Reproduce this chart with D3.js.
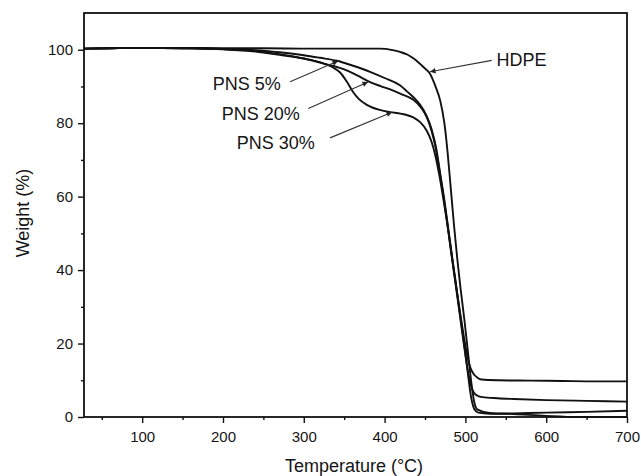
<!DOCTYPE html>
<html>
<head>
<meta charset="utf-8">
<script src="https://cdn.jsdelivr.net/npm/d3@7"></script>
<style>
  body { margin: 0; background: #fff; }
  text { font-family: "Liberation Sans", Arial, sans-serif; fill: #151515; }
</style>
</head>
<body>
<svg id="tga"></svg>
<script>
// TGA curves, [temperature (°C), weight (%)]
const hdpe = [[28,100.3],[60,100.4],[100,100.5],[150,100.5],[200,100.4],[250,100.4],[300,100.3],[350,100.3],[394,100.3],[410,99.9],[419,99.4],[428,98.7],[436,97.6],[448,95.3],[456,93.5],[463,90],[469,86],[474,80],[478,72],[482,62],[486,52],[490,43],[494,35],[499,26],[503,18],[507,10],[511,4],[515,2],[530,1.1],[560,0.8],[600,0.3],[640,0],[700,0]];
const pns5 = [[28,100.3],[60,100.4],[100,100.5],[150,100.4],[200,100.2],[240,99.9],[270,99.3],[300,98.5],[320,97.8],[341,97.0],[360,95.7],[382,94],[400,92.3],[419,90.3],[428,88.6],[436,87],[444,85],[452,82],[458,78.5],[464,73],[469,66],[474,59],[479,51],[484,43],[489,35],[494,27],[499,19],[503,12],[507,5.5],[511,2.2],[516,1.2],[530,0.9],[560,1.0],[600,1.2],[650,1.4],[700,1.7]];
const pns20 = [[28,100.3],[60,100.4],[100,100.5],[150,100.4],[200,100.2],[240,99.7],[270,98.8],[300,97.6],[325,96.2],[353,94.4],[368,92.8],[382,91.2],[395,90.1],[407,89.2],[420,88],[436,86.3],[445,84.3],[452,81.7],[458,78],[463,73.5],[468,67],[473,60],[478,52],[483,44],[488,36],[493,28],[498,20],[502,14],[506,9.2],[510,6.8],[515,5.8],[521,5.4],[540,5.1],[560,4.9],[600,4.6],[650,4.4],[700,4.2]];
const pns30 = [[28,100.3],[60,100.4],[100,100.5],[150,100.4],[200,100.1],[240,99.5],[270,98.6],[300,97.6],[320,96.6],[335,95.3],[345,93.8],[353,91.4],[361,88.5],[368,86.6],[378,85],[394,83.6],[407,83],[420,82.6],[436,81.5],[444,80.3],[452,78],[458,75],[463,71],[468,65.5],[473,59],[478,52],[483,44],[488,36.5],[493,29],[498,22],[502,17],[506,13.5],[510,11.8],[515,10.7],[520,10.2],[540,10.0],[580,9.9],[620,9.8],[660,9.7],[700,9.7]];

// annotation labels: text, text anchor point, arrow start, arrow tip (data units)
const labelNames = ["HDPE", "PNS 5%", "PNS 20%", "PNS 30%"];
const labelPos = [[538.6,95.5],[187.3,89.0],[198.4,80.8],[217,73.1]];
const arrowFrom = [[532.6,97.1],[283,91.3],[305.6,84.0],[332.5,76.0]];
const arrowTo = [[456.2,94.0],[342.4,96.9],[379.5,91.2],[409.2,83.0]];

const xMajor = [100, 200, 300, 400, 500, 600, 700];
const xMinor = [50, 150, 250, 350, 450, 550, 650];
const yMajor = [0, 20, 40, 60, 80, 100];
const yMinor = [10, 30, 50, 70, 90];

let width = 641, height = 476;
let margin = {top: 13, right: 14, bottom: 59, left: 84};

let svg = d3.select('#tga')
    .attr('width', width)
    .attr('height', height);

let xScale = d3.scaleLinear()
    .domain([28, 700])
    .range([margin.left, width - margin.right]);

let yScale = d3.scaleLinear()
    .domain([0, 110])
    .range([height - margin.bottom, margin.top]);

// minor ticks first, then major ticks with labels
svg.append('g')
    .attr('transform', `translate(0, ${height - margin.bottom})`)
    .call(d3.axisBottom(xScale).tickValues(xMinor).tickSize(3).tickFormat(''));
svg.append('g')
    .attr('transform', `translate(${margin.left}, 0)`)
    .call(d3.axisLeft(yScale).tickValues(yMinor).tickSize(3).tickFormat(''));

let xAxis = svg.append('g')
    .attr('transform', `translate(0, ${height - margin.bottom})`)
    .call(d3.axisBottom(xScale).tickValues(xMajor).tickSize(6).tickPadding(8));
let yAxis = svg.append('g')
    .attr('transform', `translate(${margin.left}, 0)`)
    .call(d3.axisLeft(yScale).tickValues(yMajor).tickSize(6).tickPadding(5));

svg.selectAll('.domain').remove();
svg.selectAll('.tick line').attr('stroke', '#111').attr('stroke-width', 1.4);
svg.selectAll('.tick text')
    .style('font-size', '15px')
    .style('font-family', '"Liberation Sans", Arial, sans-serif')
    .attr('fill', '#151515');

// frame
svg.append('rect')
    .attr('x', xScale(28))
    .attr('y', yScale(110))
    .attr('width', xScale(700) - xScale(28))
    .attr('height', yScale(0) - yScale(110))
    .attr('fill', 'none')
    .attr('stroke', '#111')
    .attr('stroke-width', 1.8);

// curves
let line = d3.line()
    .x(d => xScale(d[0]))
    .y(d => yScale(d[1]))
    .curve(d3.curveMonotoneX);

svg.selectAll('path.curve')
    .data([hdpe, pns5, pns20, pns30])
    .enter()
    .append('path')
    .attr('class', 'curve')
    .attr('d', line)
    .attr('fill', 'none')
    .attr('stroke', '#111')
    .attr('stroke-width', 1.9)
    .attr('stroke-linejoin', 'round');

// arrow head
svg.append('defs').append('marker')
    .attr('id', 'head')
    .attr('viewBox', '0 0 10 10')
    .attr('refX', 10)
    .attr('refY', 5)
    .attr('markerUnits', 'userSpaceOnUse')
    .attr('markerWidth', 9)
    .attr('markerHeight', 5.5)
    .attr('orient', 'auto')
    .append('path')
    .attr('d', 'M0,0 L10,5 L0,10 z')
    .attr('fill', '#222');

svg.selectAll('line.arrow')
    .data(labelNames)
    .enter()
    .append('line')
    .attr('class', 'arrow')
    .attr('x1', (d, i) => xScale(arrowFrom[i][0]))
    .attr('y1', (d, i) => yScale(arrowFrom[i][1]))
    .attr('x2', (d, i) => xScale(arrowTo[i][0]))
    .attr('y2', (d, i) => yScale(arrowTo[i][1]))
    .attr('stroke', '#333')
    .attr('stroke-width', 1.1)
    .attr('marker-end', 'url(#head)');

svg.selectAll('text.label')
    .data(labelNames)
    .enter()
    .append('text')
    .attr('class', 'label')
    .attr('x', (d, i) => xScale(labelPos[i][0]))
    .attr('y', (d, i) => yScale(labelPos[i][1]))
    .style('font-size', '18px')
    .text(d => d);

// axis titles
svg.append('text')
    .attr('x', 354)
    .attr('y', 472)
    .attr('text-anchor', 'middle')
    .style('font-size', '18px')
    .text('Temperature (°C)');

svg.append('text')
    .attr('transform', 'rotate(-90)')
    .attr('x', -213)
    .attr('y', 29)
    .attr('text-anchor', 'middle')
    .style('font-size', '18px')
    .text('Weight (%)');
</script>
</body>
</html>
